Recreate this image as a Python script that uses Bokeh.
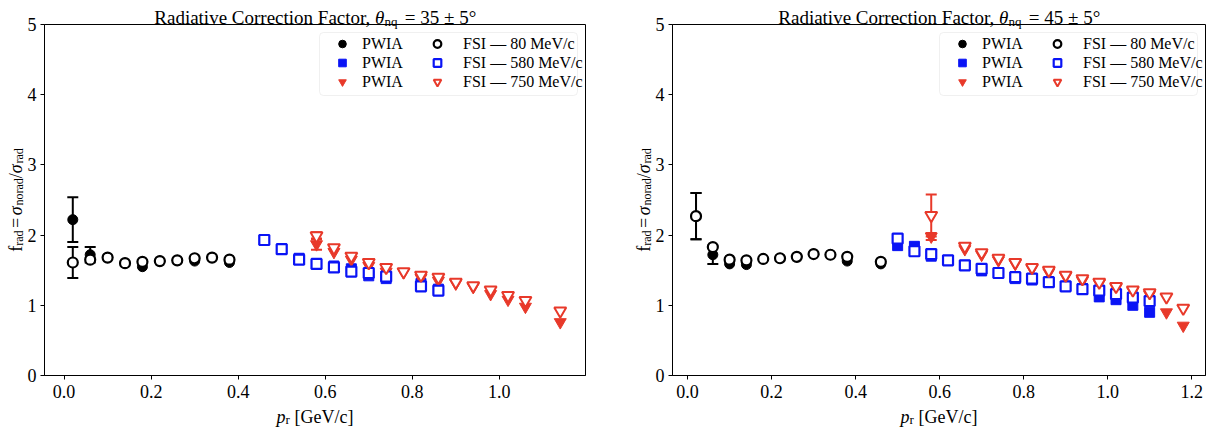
import math
from bokeh.plotting import figure
from bokeh.core.properties import value
from bokeh.models import (ColumnDataSource, Whisker, TeeHead, Legend, LegendItem,
                          FixedTicker, PrintfTickFormatter, Range1d, BoxAnnotation)
from bokeh.layouts import row
from bokeh.embed import file_html
from bokeh.resources import INLINE

# ---------------- data: theta_nq = 35 +/- 5 deg ----------------
L_x80 = [0.02, 0.06, 0.10, 0.14, 0.18, 0.22, 0.26, 0.30, 0.34, 0.38]
L_pwia80 = [2.22, 1.72, 1.68, 1.60, 1.55, 1.63, 1.64, 1.63, 1.68, 1.61]
L_pwia80_err = [0.32, 0.11, 0, 0, 0, 0, 0, 0, 0, 0]
L_fsi80 = [1.61, 1.65, 1.68, 1.60, 1.62, 1.63, 1.64, 1.67, 1.68, 1.65]
L_fsi80_err = [0.22, 0, 0, 0, 0, 0, 0, 0, 0, 0]

L_x580 = [0.46, 0.50, 0.54, 0.58, 0.62, 0.66, 0.70, 0.74, 0.82, 0.86]
L_pwia580 = [1.93, 1.80, 1.67, 1.59, 1.56, 1.52, 1.42, 1.38, 1.31, 1.23]
L_fsi580 = [1.93, 1.80, 1.65, 1.59, 1.54, 1.48, 1.46, 1.41, 1.27, 1.21]

L_x750 = [0.58, 0.62, 0.66, 0.70, 0.74, 0.78, 0.82, 0.86, 0.90, 0.94, 0.98, 1.02, 1.06, 1.14]
L_pwia750 = [1.87, 1.76, 1.65, 1.56, 1.48, 1.47, 1.39, 1.35, 1.31, 1.26, 1.16, 1.08, 0.98, 0.76]
L_pwia750_err = [0.08, 0, 0, 0, 0, 0, 0, 0, 0, 0, 0, 0, 0, 0]
L_fsi750 = [1.99, 1.82, 1.70, 1.61, 1.54, 1.48, 1.43, 1.40, 1.33, 1.28, 1.22, 1.14, 1.07, 0.92]
L_fsi750_err = [0.05, 0, 0, 0, 0, 0, 0, 0, 0, 0, 0, 0, 0, 0]

# ---------------- data: theta_nq = 45 +/- 5 deg ----------------
R_x80 = [0.02, 0.06, 0.10, 0.14, 0.18, 0.22, 0.26, 0.30, 0.34, 0.38, 0.46]
R_pwia80 = [2.27, 1.72, 1.59, 1.58, 1.66, 1.67, 1.69, 1.73, 1.72, 1.63, 1.59]
R_pwia80_err = [0.33, 0.13, 0, 0, 0, 0, 0, 0, 0, 0, 0]
R_fsi80 = [2.27, 1.83, 1.65, 1.64, 1.66, 1.67, 1.69, 1.73, 1.72, 1.69, 1.62]
R_fsi80_err = [0.33, 0, 0, 0, 0, 0, 0, 0, 0, 0, 0]

R_x580 = [0.50, 0.54, 0.58, 0.62, 0.66, 0.70, 0.74, 0.78, 0.82, 0.86, 0.90, 0.94, 0.98, 1.02, 1.06, 1.10]
R_pwia580 = [1.85, 1.84, 1.70, 1.64, 1.57, 1.49, 1.46, 1.38, 1.36, 1.33, 1.27, 1.24, 1.12, 1.08, 1.00, 0.90]
R_fsi580 = [1.95, 1.77, 1.73, 1.64, 1.57, 1.52, 1.46, 1.40, 1.38, 1.33, 1.27, 1.23, 1.21, 1.16, 1.11, 1.06]

R_x750 = [0.58, 0.66, 0.70, 0.74, 0.78, 0.82, 0.86, 0.90, 0.94, 0.98, 1.02, 1.06, 1.10, 1.14, 1.18]
R_pwia750 = [1.98, 1.80, 1.72, 1.64, 1.59, 1.52, 1.47, 1.41, 1.35, 1.31, 1.25, 1.20, 1.15, 0.90, 0.71]
R_pwia750_err = [0.05, 0, 0, 0, 0, 0, 0, 0, 0, 0, 0, 0, 0, 0, 0]
R_fsi750 = [2.28, 1.84, 1.75, 1.67, 1.61, 1.54, 1.50, 1.43, 1.38, 1.33, 1.27, 1.22, 1.18, 1.12, 0.96]
R_fsi750_err = [0.30, 0, 0, 0, 0, 0, 0, 0, 0, 0, 0, 0, 0, 0, 0]

LEFT_XTICKS = [0.0, 0.2, 0.4, 0.6, 0.8, 1.0]
RIGHT_XTICKS = [0.0, 0.2, 0.4, 0.6, 0.8, 1.0, 1.2]
YTICKS = [0, 1, 2, 3, 4, 5]
PWIA_LABELS = ["PWIA", "PWIA", "PWIA"]
FSI_LABELS = ["FSI — 80 MeV/c", "FSI — 580 MeV/c", "FSI — 750 MeV/c"]

BLACK = "#000000"
BLUE = "#0a14f5"
RED = "#e8392a"
FONT = "Liberation Serif"

# approx. Times/Liberation Serif advance widths (per 1000 em) for composing sub-scripted labels
W = {' ': 250, ',': 250, '.': 250, '/': 278, '=': 564, '[': 333, ']': 333, '±': 564, '°': 400,
     'C': 667, 'F': 556, 'G': 722, 'R': 667, 'V': 722, 'a': 444, 'c': 444, 'd': 500, 'e': 444,
     'f': 333, 'i': 278, 'n': 500, 'o': 500, 'q': 500, 'r': 333, 't': 278, 'v': 500, 'p': 500,
     'θ': 500, 'σ': 540, '3': 500, '4': 500, '5': 500}


def tw(s, size):
    return sum(W.get(ch, 500) for ch in s) * size / 1000.0


def errorbars(p, xs, ys, errs, color):
    xx = [x for x, e in zip(xs, errs) if e > 0]
    up = [y + e for y, e in zip(ys, errs) if e > 0]
    lo = [y - e for y, e in zip(ys, errs) if e > 0]
    if not xx:
        return
    src = ColumnDataSource(dict(x=xx, upper=up, lower=lo))
    p.add_layout(Whisker(source=src, base="x", upper="upper", lower="lower", dimension="height",
                         line_color=color, line_width=2,
                         upper_head=TeeHead(size=11, line_color=color, line_width=2),
                         lower_head=TeeHead(size=11, line_color=color, line_width=2)))


def panel(title_num, x80, p80, p80e, f80, f80e, x580, p580, f580, x750, p750, p750e, f750, f750e,
          xr, xticks, width, bl, br, fw):
    H = 430
    top, bottom = 24, 375
    fh = bottom - top
    p = figure(width=width, height=H, output_backend="svg", toolbar_location=None,
               x_range=Range1d(*xr), y_range=Range1d(0, 5),
               min_border_left=bl, min_border_right=br, min_border_top=top, min_border_bottom=H - bottom)
    p.background_fill_color = "white"
    p.border_fill_color = "white"
    p.outline_line_color = "black"
    p.outline_line_width = 1
    p.grid.visible = False
    for ax in (p.xaxis[0], p.yaxis[0]):
        ax.axis_line_color = "black"
        ax.major_tick_line_color = "black"
        ax.major_tick_in = 0
        ax.major_tick_out = 4
        ax.minor_tick_line_color = None
        ax.major_label_text_font = FONT
        ax.major_label_text_font_size = "18px"
        ax.major_label_text_color = "black"
    p.xaxis.ticker = FixedTicker(ticks=xticks)
    p.xaxis.formatter = PrintfTickFormatter(format="%.1f")
    p.xaxis.major_label_standoff = 5
    p.yaxis.ticker = FixedTicker(ticks=YTICKS)
    p.yaxis.major_label_standoff = 4

    # error bars
    errorbars(p, x80, p80, p80e, BLACK)
    errorbars(p, x80, f80, f80e, BLACK)
    errorbars(p, x750, p750, p750e, RED)
    errorbars(p, x750, f750, f750e, RED)

    r1 = p.scatter(x80, p80, marker="circle", size=10, fill_color=BLACK, line_color=BLACK, line_width=1)
    r2 = p.scatter(x580, p580, marker="square", size=10, fill_color=BLUE, line_color=BLUE, line_width=1)
    r3 = p.scatter(x750, p750, marker="inverted_triangle", size=12, fill_color=RED, line_color=RED, line_width=1)
    r4 = p.scatter(x80, f80, marker="circle", size=10, fill_color="white", line_color=BLACK, line_width=2.2)
    r5 = p.scatter(x580, f580, marker="square", size=10, fill_color="white", line_color=BLUE, line_width=2.2)
    r6 = p.scatter(x750, f750, marker="inverted_triangle", size=12, fill_color="white", line_color=RED, line_width=2)

    # ---- legend: a framed box holding two columns
    bw, bh = 258, 63
    bx = fw - 8 - bw
    btop = fh - 8
    p.add_layout(BoxAnnotation(left=bx, right=bx + bw, top=btop, bottom=btop - bh,
                               left_units="screen", right_units="screen",
                               top_units="screen", bottom_units="screen",
                               fill_color="white", fill_alpha=0.85,
                               line_color="#cccccc", line_width=1, border_radius=4))
    pitch = 19
    ltop = fh - 9.5
    lbottom = round(ltop - 3 * pitch)
    common = dict(label_text_font=FONT, label_text_font_size="16px", label_text_color="black",
                  glyph_width=22, glyph_height=pitch, label_height=pitch, spacing=0,
                  padding=0, margin=0, border_line_color=None, background_fill_alpha=0)
    legA = Legend(items=[LegendItem(label=l, renderers=[r]) for l, r in zip(PWIA_LABELS, [r1, r2, r3])],
                  location=(bx + 12, lbottom), label_standoff=9, **common)
    legB = Legend(items=[LegendItem(label=l, renderers=[r]) for l, r in zip(FSI_LABELS, [r4, r5, r6])],
                  location=(bx + 107, lbottom), label_standoff=15, **common)
    p.add_layout(legA)
    p.add_layout(legB)

    # ---- texts, drawn as unclipped text glyphs anchored at the frame centre, offsets in px
    cx = (xr[0] + xr[1]) / 2.0
    cy = 2.5

    def put(dx, dy, text, size, align="left", style="normal", angle=0.0):
        p.text(x=[cx], y=[cy], text=[text], x_offset=dx, y_offset=-dy, angle=angle,
               text_font=value(FONT), text_font_size=value(f"{size}px"), text_font_style=style,
               text_color="black", text_align=align, text_baseline="alphabetic", level="overlay")

    # title: "Radiative Correction Factor, θ_nq = NN ± 5°"
    A = "Radiative Correction Factor,"
    C = f"= {title_num} ± 5°"
    s_main, s_sub = 19, 13
    sp = tw(" ", s_main)
    wA, wT, wS, wC = tw(A, s_main), tw("θ", s_main), tw("nq", s_sub), tw(C, s_main)
    total = wA + sp + wT + wS + 1.5 * sp + wC
    X1 = -total / 2 + wA + sp
    ty = fh / 2 + 7
    put(X1 - sp, ty, A, s_main, align="right")
    put(X1, ty, "θ", s_main, style="italic")
    put(X1 + wT, ty - 4, "nq", s_sub)
    put(X1 + wT + wS + 1.5 * sp, ty, C, s_main)

    # x label: p_r [GeV/c]
    wp, wr, wg = tw("p", 18), tw("r", 13), tw("[GeV/c]", 18)
    sp2 = tw(" ", 18)
    tot = wp + wr + sp2 + wg
    Xp = -tot / 2 + wp
    by = -(fh / 2 + 41)
    put(Xp, by, "p", 18, align="right", style="italic")
    put(Xp, by - 3, "r", 13)
    put(Xp + wr + sp2, by, "[GeV/c]", 18)

    # y label: f_rad = σ_norad / σ_rad (rotated)
    pieces = [("f", 18, "normal", 0), ("rad", 12, "normal", 3), ("=", 18, "normal", 0),
              ("σ", 18, "italic", 0), ("norad", 12, "normal", 3), ("/", 18, "normal", 0),
              ("σ", 18, "italic", 0), ("rad", 12, "normal", 3)]
    pads = {"=": 2.5}
    widths = [tw(t, s) + 2 * pads.get(t, 0) for t, s, _, _ in pieces]
    L = sum(widths)
    pos = -L / 2
    xb = -(fw / 2 + 29)
    for (t, s, st, sub), w in zip(pieces, widths):
        put(xb + sub, pos + pads.get(t, 0), t, s, style=st, angle=math.pi / 2)
        pos += w
    return p


p1 = panel(35, L_x80, L_pwia80, L_pwia80_err, L_fsi80, L_fsi80_err, L_x580, L_pwia580, L_fsi580,
           L_x750, L_pwia750, L_pwia750_err, L_fsi750, L_fsi750_err,
           (-0.045, 1.198), LEFT_XTICKS, 618, 44, 33, 541)
p2 = panel(45, R_x80, R_pwia80, R_pwia80_err, R_fsi80, R_fsi80_err, R_x580, R_pwia580, R_fsi580,
           R_x750, R_pwia750, R_pwia750_err, R_fsi750, R_fsi750_err,
           (-0.036, 1.233), RIGHT_XTICKS, 598, 54, 11, 533)

layout = row(p1, p2)
open("out.html", "w").write(file_html(layout, INLINE))
